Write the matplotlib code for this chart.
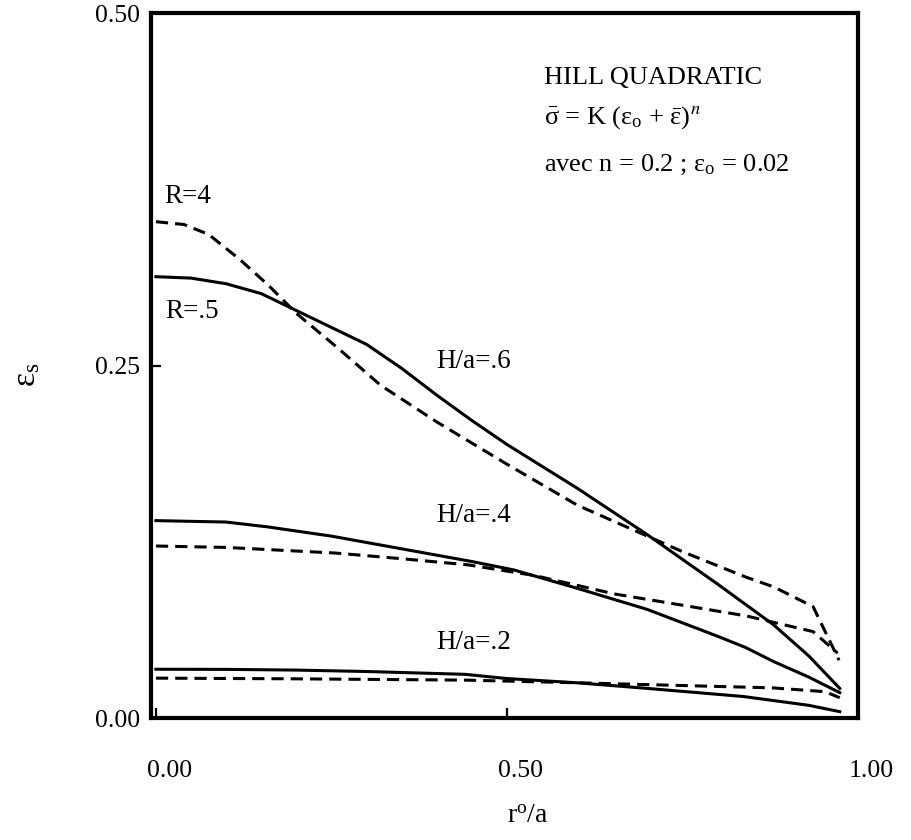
import matplotlib
matplotlib.use("Agg")
import matplotlib.pyplot as plt
import matplotlib.transforms as mtransforms

plt.rcParams['font.family'] = ['Liberation Serif', 'DejaVu Serif']
plt.rcParams['mathtext.fontset'] = 'stix'

# H/a = .6  (solid : R=.5, dashed : R=4)
x_h6_solid = [0, 0.05, 0.10, 0.15, 0.20, 0.25, 0.30, 0.35, 0.40, 0.45, 0.50, 0.60, 0.70, 0.80, 0.88, 0.93, 0.974]
y_h6_solid = [0.313, 0.312, 0.308, 0.301, 0.289, 0.277, 0.265, 0.248, 0.229, 0.211, 0.194, 0.163, 0.130, 0.095, 0.066, 0.044, 0.021]
x_h6_dash = [0, 0.04, 0.075, 0.12, 0.16, 0.20, 0.26, 0.32, 0.40, 0.50, 0.60, 0.70, 0.75, 0.80, 0.84, 0.88, 0.936, 0.973]
y_h6_dash = [0.352, 0.350, 0.343, 0.325, 0.307, 0.287, 0.262, 0.236, 0.210, 0.180, 0.151, 0.129, 0.118, 0.108, 0.100, 0.093, 0.079, 0.041]

# H/a = .4
x_h4_solid = [0, 0.10, 0.16, 0.25, 0.35, 0.45, 0.51, 0.60, 0.70, 0.80, 0.84, 0.88, 0.93, 0.974]
y_h4_solid = [0.140, 0.139, 0.1355, 0.129, 0.120, 0.111, 0.105, 0.092, 0.077, 0.058, 0.050, 0.040, 0.029, 0.018]
x_h4_dash = [0, 0.10, 0.256, 0.35, 0.445, 0.54, 0.653, 0.75, 0.841, 0.936, 0.971]
y_h4_dash = [0.122, 0.121, 0.117, 0.113, 0.1086, 0.101, 0.088, 0.080, 0.0724, 0.0613, 0.046]

# H/a = .2
x_h2_solid = [0, 0.10, 0.20, 0.30, 0.44, 0.50, 0.60, 0.70, 0.836, 0.878, 0.93, 0.974]
y_h2_solid = [0.0346, 0.0345, 0.034, 0.033, 0.031, 0.028, 0.025, 0.021, 0.0153, 0.0125, 0.009, 0.0045]
x_h2_dash = [0, 0.20, 0.44, 0.60, 0.878, 0.953, 0.974]
y_h2_dash = [0.0283, 0.0278, 0.0269, 0.025, 0.0214, 0.0187, 0.0144]

x_ticks = [0.0, 0.5, 1.0]
x_ticklabels = ['0.00', '0.50', '1.00']
y_ticks = [0.0, 0.25, 0.5]
y_ticklabels = ['0.00', '0.25', '0.50']

fig = plt.figure(figsize=(9.12, 8.4), dpi=100)
ax = fig.add_axes([0.1656, 0.1452, 0.7752, 0.8393])

lw = 2.2
dash = (0, (4, 2.3))
ax.plot(x_h6_solid, y_h6_solid, color='black', lw=lw)
ax.plot(x_h6_dash, y_h6_dash, color='black', lw=lw, linestyle=dash)
ax.plot(x_h4_solid, y_h4_solid, color='black', lw=lw)
ax.plot(x_h4_dash, y_h4_dash, color='black', lw=lw, linestyle=dash)
ax.plot(x_h2_solid, y_h2_solid, color='black', lw=lw)
ax.plot(x_h2_dash, y_h2_dash, color='black', lw=lw, linestyle=dash)

ax.set_xlim(-0.007, 0.996)
ax.set_ylim(0, 0.5)
ax.set_xticks(x_ticks)
ax.set_xticklabels(x_ticklabels)
ax.set_yticks(y_ticks)
ax.set_yticklabels(y_ticklabels)
ax.tick_params(direction='in', length=7, width=1.6, labelsize=18.5)
ax.tick_params(axis='x', pad=30)
ax.tick_params(axis='y', pad=8)
for s in ax.spines.values():
    s.set_linewidth(3)

# tick labels under the x axis sit a bit right of their ticks
offset = mtransforms.ScaledTranslation(9.5 / 72, 0, fig.dpi_scale_trans)
for lab in ax.get_xticklabels():
    lab.set_transform(lab.get_transform() + offset)

ax.set_xlabel(r'$\mathregular{r^o/a}$', fontsize=20)
ax.xaxis.label.set_va('baseline')
ax.xaxis.set_label_coords(0.533, -0.149)
ax.set_ylabel(r'$\mathregular{\varepsilon_s}$', fontsize=24)
ax.yaxis.label.set_va('center')
ax.yaxis.set_label_coords(-0.175, 0.4865)

fs = 19.5
ax.text(0.0125, 0.365, 'R=4', fontsize=fs, va='baseline')
ax.text(0.014, 0.2835, 'R=.5', fontsize=fs, va='baseline')
ax.text(0.400, 0.248, 'H/a=.6', fontsize=fs, va='baseline')
ax.text(0.399, 0.139, 'H/a=.4', fontsize=fs, va='baseline')
ax.text(0.400, 0.049, 'H/a=.2', fontsize=fs, va='baseline')

tx = 0.553
fb = 19
ax.text(tx, 0.4495, 'HILL QUADRATIC', fontsize=fb, va='baseline')
ax.text(tx, 0.421, r'$\mathregular{\bar{\sigma}}$ = K ($\mathregular{\varepsilon_o}$ + $\mathregular{\bar{\varepsilon}}$)$^{\mathit{n}}$',
        fontsize=fb, va='baseline')
ax.text(tx, 0.388, r'avec n = 0.2 ; $\mathregular{\varepsilon_o}$ = 0.02', fontsize=fb, va='baseline')

fig.savefig('out.png', dpi=100)
